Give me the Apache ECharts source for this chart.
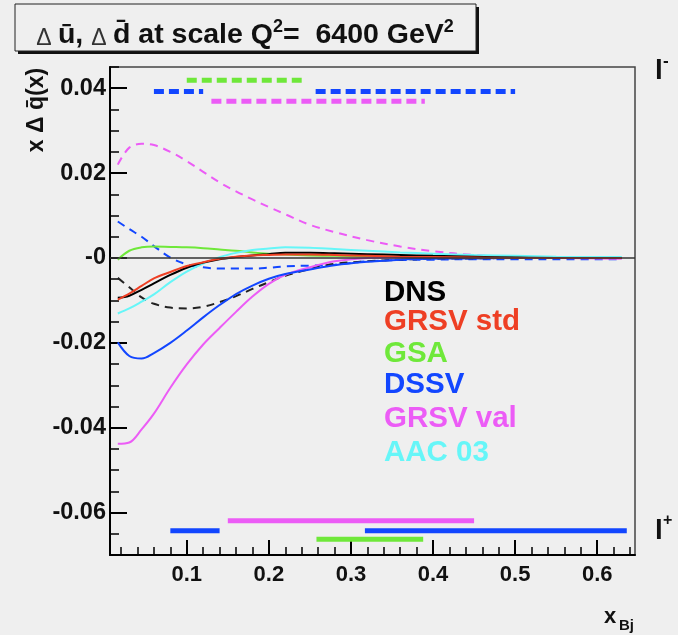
<!DOCTYPE html>
<html><head><meta charset="utf-8">
<script src="https://cdn.jsdelivr.net/npm/echarts@6/dist/echarts.min.js"></script>
<style>html,body{margin:0;padding:0;background:#efefef;}#c{width:678px;height:635px;}</style>
</head><body><div id="c"></div>
<script>
// ---- data ----
const xGrid      = [0.016,0.03,0.045,0.06,0.08,0.1,0.12,0.14,0.16,0.18,0.2,0.22,0.25,0.28,0.32,0.36,0.4,0.45,0.5,0.55,0.63];
const dnsSolid   = [-0.0094,-0.0089,-0.0075,-0.0060,-0.0040,-0.0023,-0.0011,-0.0003,0.0002,0.0006,0.0009,0.0012,0.0012,0.0011,0.0009,0.0007,0.0005,0.0003,0.0001,0,0];
const grsvStd    = [-0.0098,-0.0084,-0.0066,-0.0048,-0.0033,-0.0019,-0.0010,-0.0002,0.0003,0.0006,0.0007,0.0008,0.0008,0.0007,0.0005,0.0003,0.0002,0.0001,0,0,0];
const gsaSolid   = [-0.0004,0.0017,0.0025,0.0027,0.0026,0.0025,0.0023,0.0020,0.0017,0.0013,0.0010,0.0008,0.0006,0.0005,0.0004,0.0003,0.0002,0.0001,0.0001,0,0];
const dssvSolid  = [-0.0199,-0.0231,-0.0237,-0.0224,-0.0200,-0.0171,-0.0140,-0.0111,-0.0085,-0.0065,-0.0049,-0.0038,-0.0027,-0.0017,-0.0009,-0.0004,-0.0002,-0.0001,0,0,0];
const grsvValSolid = [-0.0438,-0.0435,-0.0404,-0.0367,-0.0306,-0.0251,-0.0204,-0.0165,-0.0127,-0.0091,-0.0061,-0.0040,-0.0022,-0.0008,0,0.0001,0.0001,0,0,0,-0.0002];
const aacSolid   = [-0.0131,-0.0119,-0.0103,-0.0086,-0.0057,-0.0032,-0.0013,0.0002,0.0012,0.0019,0.0022,0.0025,0.0024,0.0021,0.0017,0.0013,0.0010,0.0007,0.0005,0.0003,0.0002];
const dnsDashed  = [-0.0047,-0.0069,-0.0093,-0.0108,-0.0117,-0.0119,-0.0115,-0.0104,-0.0090,-0.0073,-0.0057,-0.0042,-0.0026,-0.0014,-0.0008,-0.0004,-0.0002,-0.0001,0,0,0];
const dssvDashed = [0.0086,0.0068,0.0050,0.0028,0.0001,-0.0015,-0.0022,-0.0025,-0.0025,-0.0025,-0.0023,-0.0020,-0.0018,-0.0016,-0.0008,-0.0005,-0.0004,-0.0003,-0.0003,-0.0003,-0.0003];
const grsvValDashed = [0.0220,0.0260,0.0269,0.0266,0.0250,0.0228,0.0203,0.0178,0.0157,0.0138,0.0120,0.0103,0.0078,0.0061,0.0042,0.0027,0.0016,0.0007,0.0003,0.0001,0];

// l- (top) bands: x ranges and levels
const topGSA     = [0.10, 0.24];
const topDSSVa   = [0.06, 0.12];
const topDSSVb   = [0.257, 0.50];
const topGRSVval = [0.13, 0.39];
const topLevels  = [0.0419, 0.0392, 0.0369]; // GSA, DSSV, GRSV val
// l+ (bottom) bands
const botGRSVval = [0.15, 0.45];
const botDSSVa   = [0.08, 0.14];
const botDSSVb   = [0.317, 0.636];
const botGSA     = [0.258, 0.388];
const botLevels  = [-0.0619, -0.0643, -0.0663]; // GRSV val, DSSV, GSA

const legendNames = ['DNS','GRSV std','GSA','DSSV','GRSV val','AAC 03'];
const xMajor = [0.1,0.2,0.3,0.4,0.5,0.6];
const yMajor = [-0.06,-0.04,-0.02,0,0.02,0.04];

// ---- styles ----
const F = 'Liberation Sans, Arial, Helvetica, sans-serif';
const C = {dns:'#000000', red:'#ee3f24', green:'#6fe83a', blue:'#1246ff', mag:'#ec5cf6', cyan:'#66f6f8'};
const legendColors = [C.dns, C.red, C.green, C.blue, C.mag, C.cyan];
const XMIN = 0.0065, XMAX = 0.646, YMIN = -0.07, YMAX = 0.045;

const xMinor = []; for (let i = 1; i <= 32; i++) xMinor.push(+(i*0.02).toFixed(2));
const yMinor = []; for (let i = -14; i <= 9; i++) yMinor.push(+(i*0.005).toFixed(3));

function pairs(ys){ return xGrid.map((x,i)=>[x, ys[i]]); }
function curve(name, ys, color, dashed){
  return {name, type:'line', data:pairs(ys), smooth:0.35, symbol:'none', silent:true,
    lineStyle:{color, width:2, type: dashed ? [8,6] : 'solid'}, z:3};
}
function band(range, y, color, dashed){
  return {type:'line', data:[[range[0],y],[range[1],y]], symbol:'none', silent:true,
    lineStyle:{color, width:5, cap:'butt', type: dashed ? [10,5] : 'solid'}, z:4};
}

const series = [
  {type:'line', data:[], markLine:{silent:true, symbol:'none', label:{show:false},
     lineStyle:{color:'#333', width:1.5, type:'solid'}, data:[{yAxis:0}]}, z:2},
  curve('GRSV val dashed', grsvValDashed, C.mag, true),
  curve('DSSV dashed', dssvDashed, C.blue, true),
  curve('DNS dashed', dnsDashed, '#222', true),
  curve('GSA', gsaSolid, C.green, false),
  curve('AAC 03', aacSolid, C.cyan, false),
  curve('GRSV val', grsvValSolid, C.mag, false),
  curve('DSSV', dssvSolid, C.blue, false),
  curve('DNS', dnsSolid, C.dns, false),
  curve('GRSV std', grsvStd, C.red, false),
  band(topGSA, topLevels[0], C.green, true),
  band(topDSSVa, topLevels[1], C.blue, true),
  band(topDSSVb, topLevels[1], C.blue, true),
  band(topGRSVval, topLevels[2], C.mag, true),
  band(botGRSVval, botLevels[0], C.mag, false),
  band(botDSSVa, botLevels[1], C.blue, false),
  band(botDSSVb, botLevels[1], C.blue, false),
  band(botGSA, botLevels[2], C.green, false)
];

const legendY = [293, 322, 354, 385, 419, 453];
const graphics = [
  {type:'rect', shape:{x:18, y:7, width:461, height:47}, style:{fill:'#111'}, z:10},
  {type:'rect', shape:{x:15, y:4, width:461, height:47}, style:{fill:'#efefef', stroke:'#222', lineWidth:1}, z:11},
  {type:'text', x:245, y:34, z:12, style:{
    text:'{d|Δ }{b|ū, }{d|Δ }{b|d̄ at scale Q}{s|2}{b|=  6400 GeV}{s|2}',
    align:'center', verticalAlign:'middle',
    rich:{
      b:{fontFamily:F, fontWeight:'bold', fontSize:28.5, fill:'#111', lineHeight:32, verticalAlign:'bottom'},
      d:{fontFamily:F, fontWeight:'normal', fontSize:23, fill:'#333', lineHeight:32, verticalAlign:'bottom'},
      s:{fontFamily:F, fontWeight:'bold', fontSize:18, fill:'#111', lineHeight:32, verticalAlign:'top'}
    }}},
  {type:'text', x:37, y:110, rotation:Math.PI/2, z:12, style:{
    text:'x Δ q̄(x)', fontFamily:F, fontWeight:'bold', fontSize:23, fill:'#111', align:'center', verticalAlign:'middle'}},
  {type:'text', x:604, y:617, z:12, style:{text:'x', fontFamily:F, fontWeight:'bold', fontSize:22, fill:'#111', align:'left', verticalAlign:'middle'}},
  {type:'text', x:619, y:626, z:12, style:{text:'Bj', fontFamily:F, fontWeight:'bold', fontSize:15, fill:'#111', align:'left', verticalAlign:'middle'}},
  {type:'text', x:655, y:71, z:12, style:{text:'l', fontFamily:F, fontWeight:'bold', fontSize:28, fill:'#111', align:'left', verticalAlign:'middle'}},
  {type:'text', x:663, y:61, z:12, style:{text:'-', fontFamily:F, fontWeight:'bold', fontSize:17, fill:'#111', align:'left', verticalAlign:'middle'}},
  {type:'text', x:655, y:531, z:12, style:{text:'l', fontFamily:F, fontWeight:'bold', fontSize:28, fill:'#111', align:'left', verticalAlign:'middle'}},
  {type:'text', x:663, y:521, z:12, style:{text:'+', fontFamily:F, fontWeight:'bold', fontSize:16, fill:'#111', align:'left', verticalAlign:'middle'}}
];
legendNames.forEach((n,i)=>graphics.push({type:'text', x:384, y:legendY[i], z:12,
  style:{text:n, fontFamily:F, fontWeight:'bold', fontSize:29.5, fill:legendColors[i], align:'left', verticalAlign:'middle'}}));

const axisFont = {fontFamily:F, fontWeight:'bold', color:'#111'};
const option = {
  backgroundColor:'#efefef',
  animation:false,
  grid:{left:110, top:67, right:43, bottom:80, show:true, borderColor:'#444', borderWidth:1.5, backgroundColor:'transparent'},
  xAxis:[
    {type:'value', min:XMIN, max:XMAX, position:'bottom',
     axisLine:{show:true, onZero:false, lineStyle:{color:'#000', width:2}},
     axisTick:{show:true, inside:true, length:15, customValues:xMajor, lineStyle:{color:'#000', width:2}},
     axisLabel:Object.assign({customValues:xMajor, margin:9, fontSize:22, formatter:v=>v.toFixed(1)}, axisFont),
     splitLine:{show:false}},
    {type:'value', min:XMIN, max:XMAX, position:'bottom',
     axisLine:{show:false, onZero:false},
     axisTick:{show:true, inside:true, length:8, customValues:xMinor, lineStyle:{color:'#000', width:1.5}},
     axisLabel:{show:false}, splitLine:{show:false}}
  ],
  yAxis:[
    {type:'value', min:YMIN, max:YMAX, position:'left',
     axisLine:{show:true, onZero:false, lineStyle:{color:'#000', width:2}},
     axisTick:{show:true, inside:true, length:17, customValues:yMajor, lineStyle:{color:'#000', width:2}},
     axisLabel:Object.assign({customValues:yMajor, margin:4, fontSize:23.5,
        formatter:v=>Math.abs(v)<1e-9 ? '-0' : v.toFixed(2)}, axisFont),
     splitLine:{show:false}},
    {type:'value', min:YMIN, max:YMAX, position:'left',
     axisLine:{show:false, onZero:false},
     axisTick:{show:true, inside:true, length:9, customValues:yMinor, lineStyle:{color:'#000', width:1.5}},
     axisLabel:{show:false}, splitLine:{show:false}}
  ],
  series,
  graphic:graphics
};
const chart = echarts.init(document.getElementById('c'), null, {renderer:'canvas'});
chart.setOption(option);
</script></body></html>
